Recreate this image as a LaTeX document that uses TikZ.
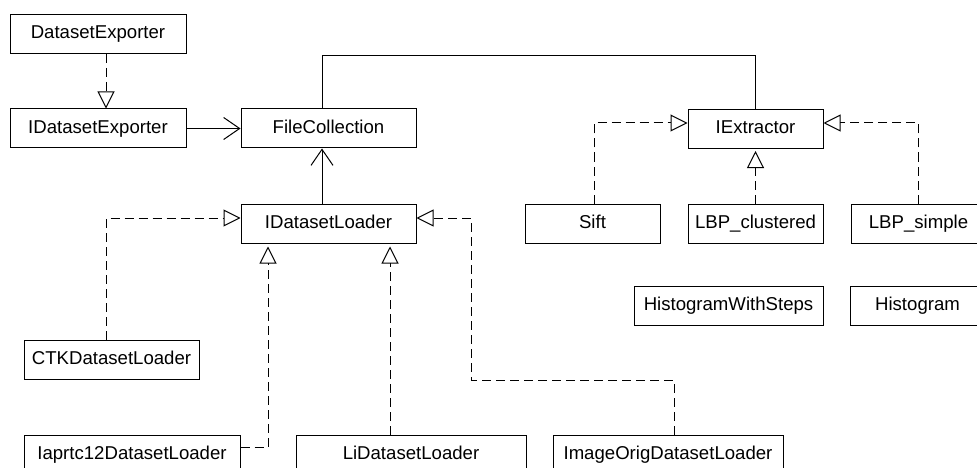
\documentclass[tikz,border=0pt]{standalone}
\usepackage{fontspec}
\setmainfont{Liberation Sans}
\usetikzlibrary{arrows.meta}
\tikzset{
  klasse/.style={draw, line width=1pt, minimum height=39pt, inner sep=0pt,
    text height=13.5pt, text depth=4pt, font=\fontsize{18.6}{22}\selectfont},
  impl/.style={line width=1pt, dash pattern=on 9pt off 5pt,
    -{Triangle[open, length=17pt, width=17pt]}},
  assoc/.style={line width=1pt, -{Straight Barb[length=16pt, width=22pt]}},
  linie/.style={line width=1pt},
}

\begin{document}
\begin{tikzpicture}[x=1pt, y=-1pt]
	\useasboundingbox (0,0) rectangle (977,468);
	\fill[white] (0,0) rectangle (977,468);
	\clip (0,0) rectangle (977,468);
	% die exporter und loader
	\node[klasse, minimum width=176pt] (dexp) at (98,34) {DatasetExporter};
	\node[klasse, minimum width=176pt] (idexp) at (98,128.5) {IDatasetExporter};
	\node[klasse, minimum width=175pt] (fc) at (328.5,128.5) {FileCollection};
	\node[klasse, minimum width=175pt] (idl) at (328.5,223.5) {IDatasetLoader};
	\node[klasse, minimum width=175pt] (ctk) at (111.5,359.5) {CTKDatasetLoader};
	\node[klasse, minimum width=216pt] (iap) at (132,454.5) {Iaprtc12DatasetLoader};
	\node[klasse, minimum width=230pt] (li) at (411,454.5) {LiDatasetLoader};
	\node[klasse, minimum width=230pt] (imo) at (668,454.5) {ImageOrigDatasetLoader};
	% die extractoren
	\node[klasse, minimum width=135pt] (iex) at (755.5,129) {IExtractor};
	\node[klasse, minimum width=135pt] (sift) at (592.5,223.5) {Sift};
	\node[klasse, minimum width=135pt] (lbpc) at (755.5,223.5) {LBP\_clustered};
	\node[klasse, minimum width=135pt] (lbps) at (918.5,223.5) {LBP\_simple};
	\node[klasse, minimum width=189pt] (hws) at (728.5,305.5) {HistogramWithSteps};
	\node[klasse, minimum width=135pt] (hist) at (917.5,305.5) {Histogram};
	% hilfspunkte fuer die knicke
	\coordinate (oben) at (0,56);
	\coordinate (knick) at (471,380);
	% assoziationen
	\draw[assoc] (idexp) -- (fc);
	\draw[assoc] ([xshift=-6.5pt]idl.north) -- ([xshift=-6.5pt]fc.south);
	\draw[linie] ([xshift=-6.5pt]fc.north) |- (oben -| iex.north) -- (iex.north);
	% realisierungen
	\draw[impl] ([xshift=8pt]dexp.south) -- ([xshift=8pt]idexp.north);
	\draw[impl] ([xshift=-5.5pt]ctk.north) |- ([yshift=5.5pt]idl.west);
	\draw[impl, shorten >=3pt] ([yshift=7.5pt]iap.east) -| ([xshift=-60.5pt]idl.south);
	\draw[impl, shorten >=3pt] ([xshift=-21pt]li.north) -- ([xshift=61.5pt]idl.south);
	\draw[impl] ([xshift=6pt]imo.north) |- (knick) |- ([yshift=5.5pt]idl.east);
	\draw[impl] ([xshift=1.5pt]sift.north) |- ([yshift=6pt]iex.west);
	\draw[impl, shorten >=2pt] (lbpc.north) -- (iex.south);
	\draw[impl] (lbps.north) |- ([yshift=6pt]iex.east);
\end{tikzpicture}
\end{document}
